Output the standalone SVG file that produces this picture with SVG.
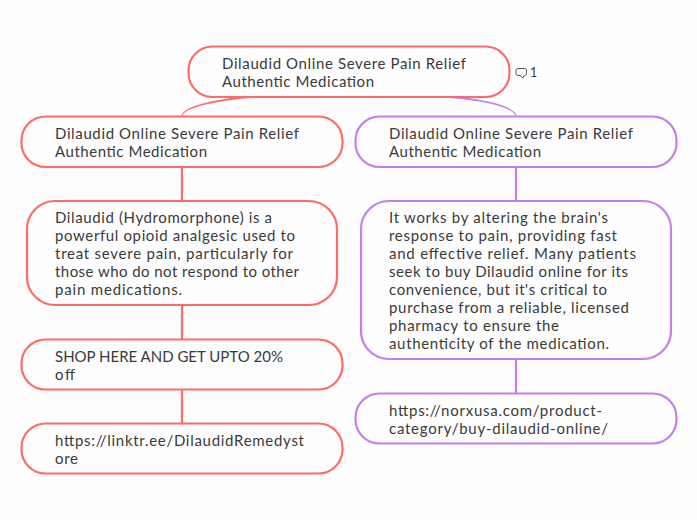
<svg xmlns="http://www.w3.org/2000/svg" width="697" height="520" viewBox="0 0 697 520">
<style>
.bg{fill:#fefefe}
.r{fill:#fefefe;stroke:#ff6b6b;stroke-width:2.2}
.p{fill:#fefefe;stroke:#c77dea;stroke-width:2.2}
.cr{fill:none;stroke:#ff6b6b;stroke-width:2.2}
.cp{fill:none;stroke:#c77dea;stroke-width:2.2}
.cr1{fill:#ff6b6b}
.cp1{fill:#c77dea}
text{font-family:"Lato","Noto Sans","Liberation Sans",sans-serif;font-size:15px;fill:#3a3a3a}
</style>
<rect class="bg" width="697" height="520"/>
<g id="connectors">
<path class="cr1" d="M181.500 116C183 106 215 99 250 96L250 98C216 101 185 107 182.500 116Z"/>
<path class="cp1" d="M516.500 116C515 106 485 99 450 96L450 98C484 101 513 107 515.500 116Z"/>
<path class="cr" d="M182 167V201M182 305V339M182 390V423"/>
<path class="cp" d="M516 167V201M516 359V393"/>
</g>
<g id="root"><rect class="r" x="188.500" y="46.500" width="321" height="50.500" rx="24"/>
<text x="222" y="68.500" textLength="244">Dilaudid Online Severe Pain Relief</text><text x="222" y="86.500" textLength="152">Authentic Medication</text></g>
<g id="comment"><path d="M518 68.500h6.500q2 0 2 2v3q0 2-2 2h-.5l-1 2.500-3-2.500h-2q-2 0-2-2v-3q0-2 2-2z" fill="none" stroke="#555" stroke-width="1"/><text x="530" y="76.500" style="font-size:12.500px">1</text></g>
<g id="n1"><rect class="r" x="21.500" y="116.500" width="321" height="50.500" rx="24"/>
<text x="55" y="138.500" textLength="244">Dilaudid Online Severe Pain Relief</text><text x="55" y="156.500" textLength="152">Authentic Medication</text></g>
<g id="n2"><rect class="p" x="355.500" y="116.500" width="321" height="50.500" rx="24"/>
<text x="389" y="138.500" textLength="244">Dilaudid Online Severe Pain Relief</text><text x="389" y="156.500" textLength="152">Authentic Medication</text></g>
<g id="n3"><rect class="r" x="27" y="201" width="310" height="104" rx="28"/>
<text x="55" y="222.500" textLength="217">Dilaudid (Hydromorphone) is a</text><text x="55" y="240.500" textLength="240">powerful opioid analgesic used to</text><text x="55" y="258.500" textLength="238">treat severe pain, particularly for</text><text x="55" y="276.500" textLength="244">those who do not respond to other</text><text x="55" y="294.500" textLength="127">pain medications.</text></g>
<g id="n4"><rect class="r" x="21.500" y="339.500" width="321" height="50" rx="24"/>
<text x="55" y="361.500" textLength="228">SHOP HERE AND GET UPTO 20%</text><text x="55" y="379.500" textLength="20">off</text></g>
<g id="n5"><rect class="r" x="21.500" y="423.500" width="321" height="50" rx="24"/>
<text x="55" y="445.500" textLength="249">https://linktr.ee/DilaudidRemedyst</text><text x="55" y="463.500" textLength="23">ore</text></g>
<g id="n6"><rect class="p" x="361" y="201" width="310" height="158" rx="28"/>
<text x="389" y="222.500" textLength="219">It works by altering the brain's</text><text x="389" y="240.500" textLength="228">response to pain, providing fast</text><text x="389" y="258.500" textLength="247">and effective relief. Many patients</text><text x="389" y="276.500" textLength="239">seek to buy Dilaudid online for its</text><text x="389" y="294.500" textLength="218">convenience, but it's critical to</text><text x="389" y="312.500" textLength="240">purchase from a reliable, licensed</text><text x="389" y="330.500" textLength="170">pharmacy to ensure the</text><text x="389" y="348.500" textLength="220">authenticity of the medication.</text></g>
<g id="n7"><rect class="p" x="355.500" y="393.500" width="321" height="50" rx="24"/>
<text x="389" y="415.500" textLength="213">https://norxusa.com/product-</text><text x="389" y="433.500" textLength="219">category/buy-dilaudid-online/</text></g>
</svg>
